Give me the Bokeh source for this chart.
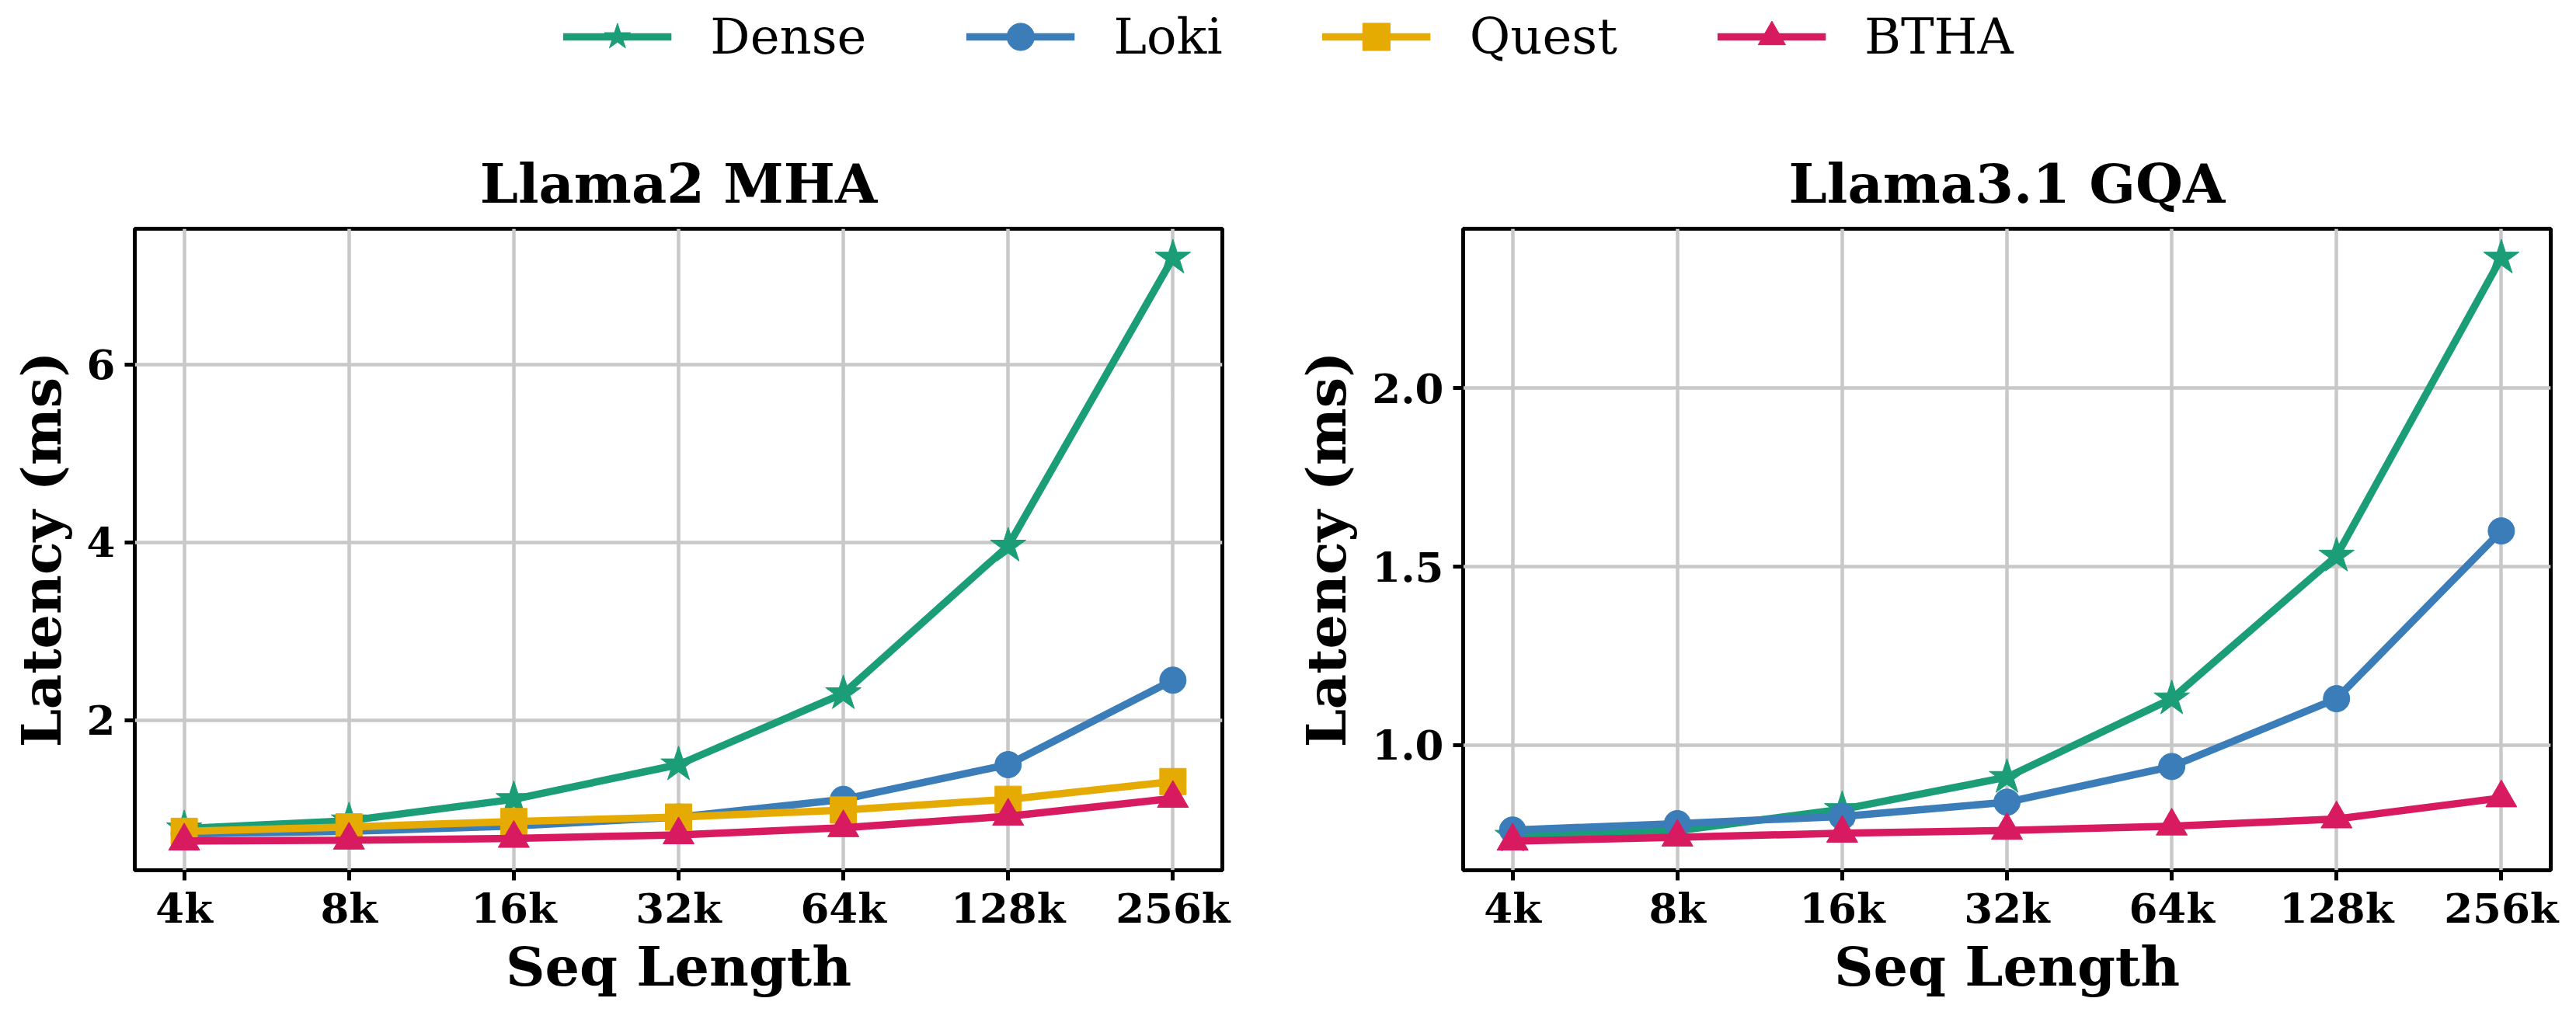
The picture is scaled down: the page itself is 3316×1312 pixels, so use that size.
from bokeh.plotting import figure
from bokeh.layouts import column, row
from bokeh.models import Range1d, FixedTicker, Legend, LegendItem
from bokeh.embed import file_html
from bokeh.resources import INLINE

categories = ["4k", "8k", "16k", "32k", "64k", "128k", "256k"]

series_names = ["Dense", "Loki", "Quest", "BTHA"]
series_colors = ["#1b9e77", "#3a7db8", "#e6ab02", "#d81b60"]
series_markers = ["star", "circle", "square", "triangle"]

mha_dense = [0.78, 0.87, 1.11, 1.50, 2.30, 3.96, 7.20]
mha_loki = [0.72, 0.75, 0.81, 0.91, 1.11, 1.50, 2.45]
mha_quest = [0.75, 0.80, 0.86, 0.91, 0.99, 1.11, 1.31]
mha_btha = [0.64, 0.65, 0.67, 0.71, 0.79, 0.92, 1.12]

gqa_dense = [0.745, 0.76, 0.82, 0.91, 1.13, 1.53, 2.365]
gqa_loki = [0.762, 0.78, 0.80, 0.84, 0.94, 1.13, 1.60]
gqa_btha = [0.731, 0.742, 0.753, 0.761, 0.773, 0.793, 0.852]

mha_ticks = [2, 4, 6]
mha_tick_labels = ["2", "4", "6"]
gqa_ticks = [1.0, 1.5, 2.0]
gqa_tick_labels = ["1.0", "1.5", "2.0"]

FONT = "DejaVu Serif"
MARKER_SIZE = {"star": 48, "circle": 34, "square": 34, "triangle": 40}
x_idx = list(range(len(categories)))


def padded(vals_lists):
    lo = min(min(v) for v in vals_lists)
    hi = max(max(v) for v in vals_lists)
    m = 0.05 * (hi - lo)
    return Range1d(lo - m, hi + m)


def make_panel(title, series, ticks, tick_labels, border_left, border_right):
    p = figure(width=border_left + 1400 + border_right, height=1192,
               output_backend="svg", toolbar_location=None,
               min_border_left=border_left, min_border_right=border_right,
               min_border_top=174, min_border_bottom=192,
               x_range=Range1d(-0.3, len(categories) - 1 + 0.3),
               y_range=padded([s[1] for s in series]))
    p.title.text = title
    p.title.align = "center"
    p.title.text_font = FONT
    p.title.text_font_style = "bold"
    p.title.text_font_size = "70px"
    p.title.text_color = "black"
    p.title.standoff = 34
    p.outline_line_color = "black"
    p.outline_line_width = 5
    p.outline_line_alpha = 1.0
    p.background_fill_color = "white"
    p.border_fill_color = "white"

    p.xaxis.ticker = FixedTicker(ticks=x_idx)
    p.xaxis.major_label_overrides = {i: c for i, c in enumerate(categories)}
    p.yaxis.ticker = FixedTicker(ticks=ticks)
    p.yaxis.major_label_overrides = {t: s for t, s in zip(ticks, tick_labels)}
    for ax in (p.xaxis, p.yaxis):
        ax.axis_line_color = None
        ax.major_tick_line_width = 5
        ax.major_tick_line_color = "black"
        ax.major_tick_out = 13
        ax.major_tick_in = 0
        ax.minor_tick_line_color = None
        ax.major_label_text_font = FONT
        ax.major_label_text_font_style = "bold"
        ax.major_label_text_font_size = "53px"
        ax.major_label_text_color = "black"
        ax.axis_label_text_font = FONT
        ax.axis_label_text_font_style = "bold"
        ax.axis_label_text_font_size = "70px"
        ax.axis_label_text_color = "black"
    p.xaxis.axis_label = "Seq Length"
    p.yaxis.axis_label = "Latency (ms)"
    p.xaxis.major_label_standoff = 4
    p.xaxis.axis_label_standoff = 0
    p.yaxis.major_label_standoff = 12
    p.yaxis.axis_label_standoff = 14
    p.grid.grid_line_color = "#c8c8c8"
    p.grid.grid_line_width = 4.5
    p.xgrid.ticker = FixedTicker(ticks=x_idx)
    p.ygrid.ticker = FixedTicker(ticks=ticks)

    for name, vals in series:
        k = series_names.index(name)
        col = series_colors[k]
        mk = series_markers[k]
        p.line(x_idx, vals, line_color=col, line_width=9.5)
        p.scatter(x_idx, vals, marker=mk, size=MARKER_SIZE[mk],
                  fill_color=col, line_color=col, line_width=1)
    return p


p1 = make_panel("Llama2 MHA",
                [("Dense", mha_dense), ("Loki", mha_loki),
                 ("Quest", mha_quest), ("BTHA", mha_btha)],
                mha_ticks, mha_tick_labels, 173, 85)
p2 = make_panel("Llama3.1 GQA",
                [("Dense", gqa_dense), ("Loki", gqa_loki), ("BTHA", gqa_btha)],
                gqa_ticks, gqa_tick_labels, 225, 33)

# legend-only strip across the top
lf = figure(width=3316, height=120, output_backend="svg", toolbar_location=None,
            x_range=Range1d(0, 1), y_range=Range1d(0, 1),
            x_axis_location=None, y_axis_location=None, min_border=0)
lf.outline_line_color = None
lf.grid.visible = False
items = []
legend_data = [mha_dense, mha_loki, mha_quest, mha_btha]
for k, name in enumerate(series_names):
    col = series_colors[k]
    mk = series_markers[k]
    lr = lf.line(x_idx, legend_data[k], line_color=col, line_width=9.5, visible=False)
    sr = lf.scatter(x_idx, legend_data[k], marker=mk, size=MARKER_SIZE[mk],
                    fill_color=col, line_color=col, visible=False)
    items.append(LegendItem(label=name, renderers=[lr, sr]))
leg = Legend(items=items, orientation="horizontal", location="top_center",
             label_text_font=FONT, label_text_font_size="64px",
             label_text_color="black",
             glyph_width=140, glyph_height=88, label_standoff=50,
             spacing=128, border_line_color=None, background_fill_alpha=0,
             padding=0, margin=3)
lf.add_layout(leg, "center")

layout = column(lf, row(p1, p2))

with open("out.html", "w") as f:
    f.write(file_html(layout, INLINE))
